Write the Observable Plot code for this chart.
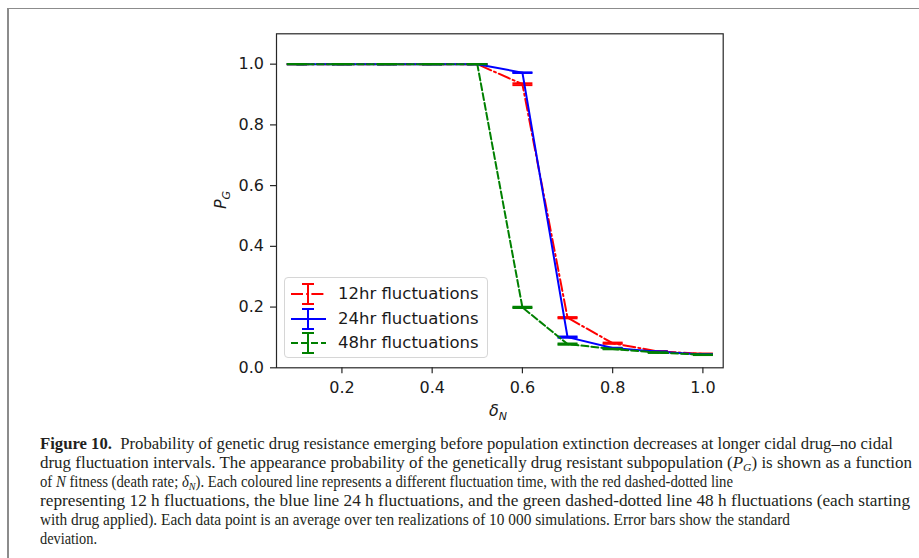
<!DOCTYPE html>
<html><head><meta charset="utf-8">
<script src="https://cdn.jsdelivr.net/npm/d3@7"></script>
<script src="https://cdn.jsdelivr.net/npm/@observablehq/plot@0.6"></script>
<style>
html,body{margin:0;padding:0;background:#fff}
body{width:919px;height:558px;overflow:hidden;position:relative}
#frame{position:absolute;left:7px;top:8px;width:912px;height:560px;border-top:1px solid #8c8c8c;border-left:2px solid #8c8c8c;box-sizing:border-box}
#chart{position:absolute;left:0;top:0}
.lab{position:absolute;font-family:"DejaVu Sans";font-size:16px;color:#1a1a1a;white-space:nowrap;line-height:1}
.lab i{font-style:italic}
.lab sub{font-size:11px;vertical-align:-4px;font-style:italic;line-height:0}
#legend{position:absolute;left:284px;top:277px;width:204px;height:81px;border:1px solid #d6d6d6;border-radius:4px;background:rgba(255,255,255,0.8);box-sizing:border-box}
.row{position:absolute;left:0;height:24px;width:204px}
.row svg{position:absolute;left:5px;top:0}
.row span{position:absolute;left:53px;top:3px;font-family:"DejaVu Sans";font-size:16.5px;color:#1a1a1a;white-space:nowrap;line-height:18px}
#caption{position:absolute;left:40px;top:434px;font-family:"Liberation Serif";font-size:16px;line-height:19px;color:#231f20}
#caption div{white-space:nowrap;height:19px;transform-origin:0 50%}
#caption sub{font-size:11px;vertical-align:-3px;line-height:0}
</style></head>
<body>
<div id="frame"></div>
<div id="chart"></div>
<div class="lab" id="ylab" style="left:212px;top:192px;transform:rotate(-90deg);transform-origin:50% 50%"><i>P</i><sub>G</sub></div>
<div class="lab" id="xlab" style="left:489px;top:403px"><i>δ</i><sub>N</sub></div>
<div id="legend"></div>
<div id="caption">
<div data-end="893"><b>Figure 10.</b>&nbsp; Probability of genetic drug resistance emerging before population extinction decreases at longer cidal drug–no cidal</div>
<div data-end="912">drug fluctuation intervals. The appearance probability of the genetically drug resistant subpopulation (<i>P</i><sub><i>G</i></sub>) is shown as a function</div>
<div data-end="733">of <i>N</i> fitness (death rate; <i>δ</i><sub><i>N</i></sub>). Each coloured line represents a different fluctuation time, with the red dashed-dotted line</div>
<div data-end="910">representing 12 h fluctuations, the blue line 24 h fluctuations, and the green dashed-dotted line 48 h fluctuations (each starting</div>
<div data-end="790">with drug applied). Each data point is an average over ten realizations of 10 000 simulations. Error bars show the standard</div>
<div data-end="97">deviation.</div>
</div>
<script>
// ---- data ----
const deltaN = [0.1, 0.2, 0.3, 0.4, 0.5, 0.6, 0.7, 0.8, 0.9, 1.0];
const pg12 = [1.0, 1.0, 1.0, 1.0, 1.0, 0.934, 0.165, 0.081, 0.054, 0.046];
const sd12 = [0, 0, 0, 0, 0, 0.003, 0.002, 0.002, 0.001, 0.001];
const pg24 = [1.0, 1.0, 1.0, 1.0, 1.0, 0.972, 0.101, 0.065, 0.053, 0.044];
const sd24 = [0, 0, 0, 0, 0, 0.001, 0.002, 0.001, 0.001, 0.001];
const pg48 = [1.0, 1.0, 1.0, 1.0, 1.0, 0.199, 0.078, 0.062, 0.050, 0.043];
const sd48 = [0, 0, 0, 0, 0, 0.002, 0.002, 0.001, 0.001, 0.001];
const seriesNames = ["12hr fluctuations", "24hr fluctuations", "48hr fluctuations"];
const xTicks = [0.2, 0.4, 0.6, 0.8, 1.0];
const yTicks = [0.0, 0.2, 0.4, 0.6, 0.8, 1.0];

const styles = [
  {color: "#ff0000", dash: "12,3.2,2,3.2"},
  {color: "#0000ff", dash: null},
  {color: "#008000", dash: "7,3"}
];
const allY = [pg12, pg24, pg48], allSd = [sd12, sd24, sd48];
const series = allY.map((ys, k) => deltaN.map((x, i) => ({x, y: ys[i], sd: allSd[k][i]})));

const capSymbol = {draw(ctx) { ctx.moveTo(-10, 0); ctx.lineTo(10, 0); }};

const marks = [];
series.forEach((data, k) => {
  const s = styles[k];
  marks.push(Plot.line(data, {x: "x", y: "y", stroke: s.color, strokeWidth: 2, strokeDasharray: s.dash}));
  marks.push(Plot.ruleX(data, {x: "x", y1: d => d.y - d.sd, y2: d => d.y + d.sd, stroke: s.color, strokeWidth: 2}));
  marks.push(Plot.dot(data, {x: "x", y: d => d.y + d.sd, symbol: capSymbol, fill: "none", stroke: s.color, strokeWidth: 2}));
  marks.push(Plot.dot(data, {x: "x", y: d => d.y - d.sd, symbol: capSymbol, fill: "none", stroke: s.color, strokeWidth: 2}));
});

const chart = Plot.plot({
  width: 919,
  height: 425,
  marginLeft: 276,
  marginRight: 196.3,
  marginTop: 33.3,
  marginBottom: 57.7,
  style: {fontFamily: "DejaVu Sans", fontSize: "16px", color: "#1a1a1a", background: "transparent", overflow: "visible"},
  x: {domain: [0.055, 1.045]},
  y: {domain: [0, 1.1]},
  marks: [
    ...marks,
    Plot.frame({stroke: "#262626", strokeWidth: 1.2}),
    Plot.axisX({ticks: xTicks, tickFormat: d3.format(".1f"), tickSize: 6, tickPadding: 8, label: null, stroke: "#262626", strokeWidth: 1.2, fontSize: 16}),
    Plot.axisY({ticks: yTicks, tickFormat: d3.format(".1f"), tickSize: 6, tickPadding: 6.5, label: null, stroke: "#262626", strokeWidth: 1.2, fontSize: 16})
  ]
});
document.getElementById("chart").appendChild(chart);

// legend
const legend = document.getElementById("legend");
seriesNames.forEach((name, k) => {
  const s = styles[k];
  const row = document.createElement("div");
  row.className = "row";
  row.style.top = (4 + k * 24.5) + "px";
  row.innerHTML =
    `<svg width="40" height="24" viewBox="0 0 40 24">
      <line x1="1" y1="12" x2="36" y2="12" stroke="${s.color}" stroke-width="2" ${s.dash ? `stroke-dasharray="${s.dash}"` : ""}/>
      <line x1="18" y1="2" x2="18" y2="22" stroke="${s.color}" stroke-width="2"/>
      <line x1="12" y1="2" x2="24" y2="2" stroke="${s.color}" stroke-width="2"/>
      <line x1="12" y1="22" x2="24" y2="22" stroke="${s.color}" stroke-width="2"/>
    </svg><span>${name}</span>`;
  legend.appendChild(row);
});

// fit each caption line to the extent it has in the figure
document.querySelectorAll("#caption div[data-end]").forEach(div => {
  div.style.display = "inline-block";
  const r = div.getBoundingClientRect();
  const target = +div.dataset.end - r.left;
  div.style.display = "block";
  div.style.transform = `scaleX(${target / r.width})`;
});
</script>
</body></html>
